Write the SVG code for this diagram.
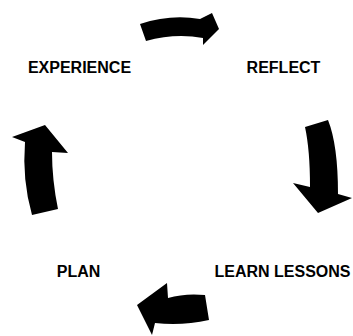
<svg xmlns="http://www.w3.org/2000/svg" width="353" height="336" viewBox="0 0 353 336">
<style>
.lbl{font-family:"Liberation Sans",Arial,sans-serif;font-weight:bold;font-size:16px;fill:#000;text-anchor:middle}
.arr{fill:#000;stroke:none}
</style>
<rect width="353" height="336" fill="#fff"/>
<g id="connectors">
<path class="arr" d="M140,24 Q170,14 200,19 L212,13 L219,29 L203,45 L203,38 Q175,33 146,41 Z"/>
<path class="arr" d="M305,127 L328,120 Q338,145 338,194 L352,198 L318,213 L293,183 L310,187 Q310,150 305,127 Z"/>
<path class="arr" d="M205,295 Q185,293 168,298 L167,283 L137,305 L152,335 L155,323 Q182,326 209,320 Z"/>
<path class="arr" d="M32,215 Q22,180 25,142 L12,137 L45,125 L68,153 L52,152 Q52,180 58,209 Z"/>
</g>
<g id="experience"><text class="lbl" x="79.5" y="73">EXPERIENCE</text></g>
<g id="reflect"><text class="lbl" x="283.5" y="73">REFLECT</text></g>
<g id="learn-lessons"><text class="lbl" x="282.5" y="277">LEARN LESSONS</text></g>
<g id="plan"><text class="lbl" x="78.5" y="277">PLAN</text></g>
</svg>
